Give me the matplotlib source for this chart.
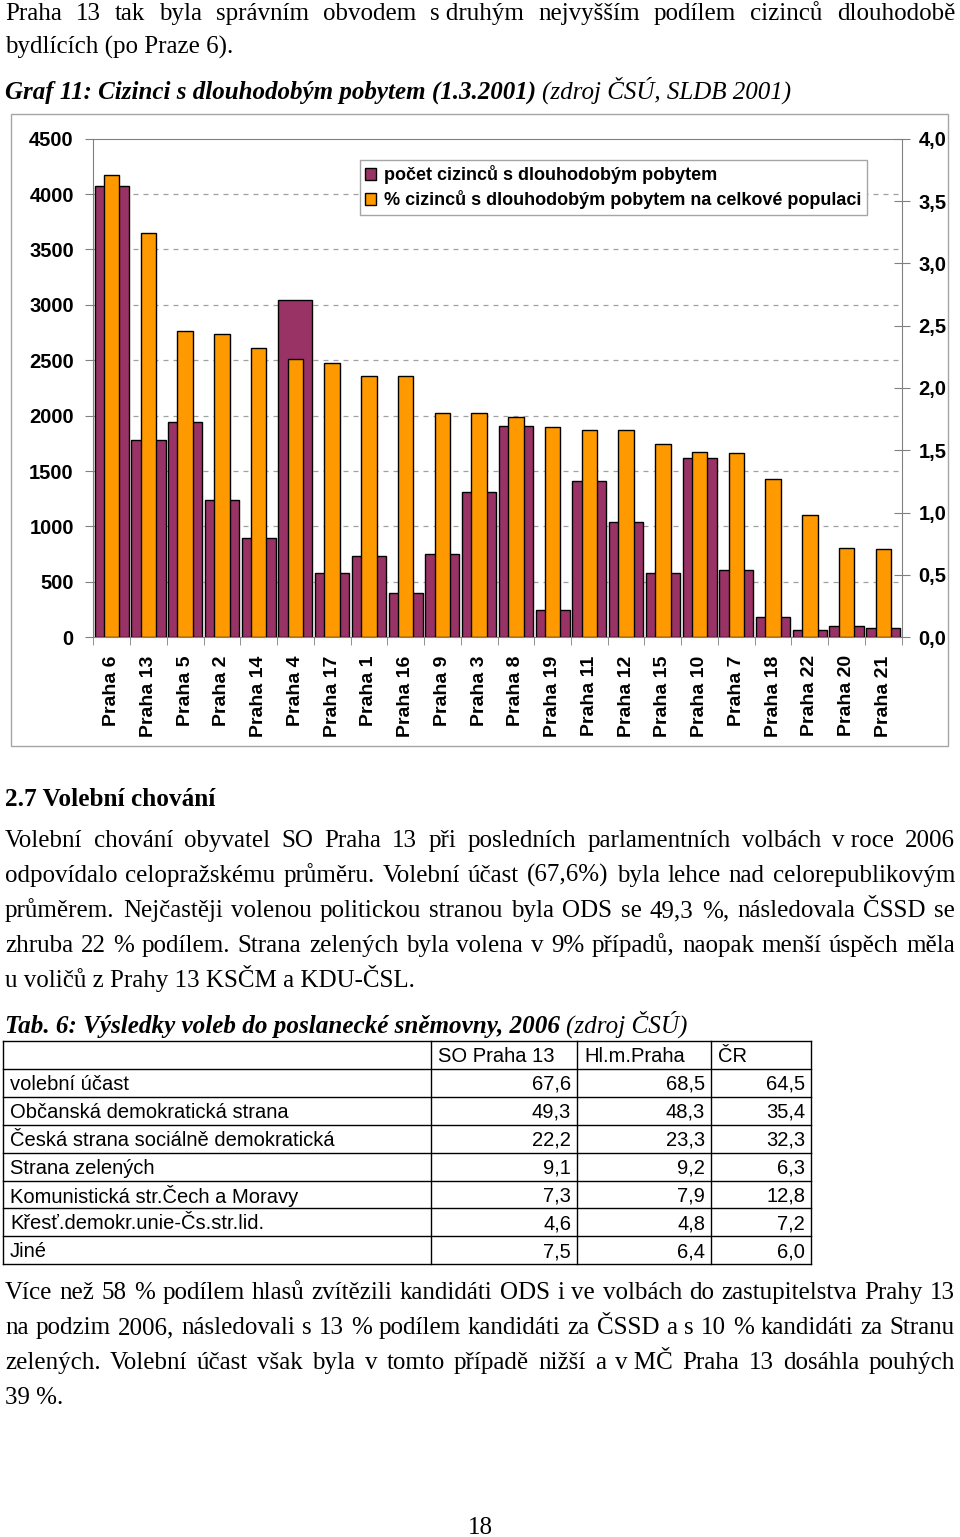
import matplotlib
matplotlib.use('Agg')
import matplotlib.pyplot as plt
from matplotlib.patches import Patch, Rectangle
import numpy as np

# page size in pixels
W, H = 960, 1537

# chart data
districts = ['Praha 6', 'Praha 13', 'Praha 5', 'Praha 2', 'Praha 14', 'Praha 4',
             'Praha 17', 'Praha 1', 'Praha 16', 'Praha 9', 'Praha 3', 'Praha 8',
             'Praha 19', 'Praha 11', 'Praha 12', 'Praha 15', 'Praha 10', 'Praha 7',
             'Praha 18', 'Praha 22', 'Praha 20', 'Praha 21']
counts = [4070, 1780, 1940, 1240, 900, 3040, 580, 730, 400, 755, 1310, 1905,
          245, 1410, 1040, 580, 1620, 610, 185, 70, 100, 85]
pct = [3.71, 3.24, 2.46, 2.43, 2.32, 2.23, 2.20, 2.10, 2.10, 1.80, 1.80, 1.77,
       1.69, 1.66, 1.66, 1.55, 1.49, 1.48, 1.27, 0.98, 0.72, 0.71]
legend_labels = ['počet cizinců s dlouhodobým pobytem',
                 '% cizinců s dlouhodobým pobytem na celkové populaci']

# table data
tab_cols = ['SO Praha 13', 'Hl.m.Praha', 'ČR']
tab_rows = ['volební účast', 'Občanská demokratická strana',
            'Česká strana sociálně demokratická', 'Strana zelených',
            'Komunistická str.Čech a Moravy', 'Křesť.demokr.unie-Čs.str.lid.', 'Jiné']
so_praha13 = [67.6, 49.3, 22.2, 9.1, 7.3, 4.6, 7.5]
hl_m_praha = [68.5, 48.3, 23.3, 9.2, 7.9, 4.8, 6.4]
cr = [64.5, 35.4, 32.3, 6.3, 12.8, 7.2, 6.0]

NB = '\u00a0'
intro = ['Praha 13 tak byla správním obvodem s' + NB + 'druhým nejvyšším podílem cizinců dlouhodobě',
         'bydlících (po Praze 6).']
para1 = ['Volební chování obyvatel SO Praha 13 při posledních parlamentních volbách v' + NB + 'roce 2006',
         'odpovídalo celopražskému průměru. Volební účast (67,6%) byla lehce nad celorepublikovým',
         'průměrem. Nejčastěji volenou politickou stranou byla ODS se 49,3 %, následovala ČSSD se',
         'zhruba 22 % podílem. Strana zelených byla volena v 9% případů, naopak menší úspěch měla',
         'u voličů z Prahy 13 KSČM a KDU-ČSL.']
para2 = ['Více než 58 % podílem hlasů zvítězili kandidáti ODS i ve volbách do zastupitelstva Prahy 13',
         'na podzim 2006, následovali s 13 % podílem kandidáti za ČSSD a s 10 % kandidáti za Stranu',
         'zelených. Volební účast však byla v tomto případě nižší a v' + NB + 'MČ Praha 13 dosáhla pouhých',
         '39 %.']

SERIF = 'Liberation Serif'
SANS = 'Liberation Sans'
MAROON = '#993366'
ORANGE = '#FF9900'

fig = plt.figure(figsize=(W / 100, H / 100), dpi=100)
page = fig.add_axes([0, 0, 1, 1])
page.set_xlim(0, W)
page.set_ylim(H, 0)
page.axis('off')
renderer = fig.canvas.get_renderer()


def width_of(s, **kw):
    t = page.text(0, 0, s, **kw)
    w = t.get_window_extent(renderer).width
    t.remove()
    return w


def justify(line, y, size, x0=5, x1=955, last=False, **kw):
    if last:
        page.text(x0, y, line, fontsize=size, va='baseline', ha='left', family=SERIF, **kw)
        return
    words = line.split(' ')
    ws = [width_of(w_, fontsize=size, family=SERIF, **kw) for w_ in words]
    gap = (x1 - x0 - sum(ws)) / (len(words) - 1)
    x = x0
    for w_, wd in zip(words, ws):
        page.text(x, y, w_, fontsize=size, va='baseline', ha='left', family=SERIF, **kw)
        x += wd + gap


# body font size: largest size where every justified line still fits with small gaps
BODY = 18
body = BODY
for ln in [intro[0]] + para1[:-1] + para2[:-1]:
    words = ln.split(' ')
    w = sum(width_of(w_, fontsize=BODY, family=SERIF) for w_ in words)
    body = min(body, BODY * (950 - 4 * (len(words) - 1)) / w)

justify(intro[0], 20, body)
justify(intro[1], 54, body, last=True)
for i, ln in enumerate(para1):
    justify(ln, 847 + 35 * i, body, last=(i == len(para1) - 1))
for i, ln in enumerate(para2):
    justify(ln, 1299 + 35 * i, body, last=(i == len(para2) - 1))


def fitted(s, x1, **kw):
    return BODY * (x1 - 5) / width_of(s, fontsize=BODY, family=SERIF, **kw)


def caption(bold_part, rest, y, x1):
    # size the caption so it ends where the reference one ends
    s = fitted(bold_part + ' ' + rest, x1, style='italic', weight='bold')
    t = page.text(5, y, bold_part, fontsize=s, family=SERIF, style='italic', weight='bold', va='baseline')
    wb = t.get_window_extent(renderer).width
    page.text(5 + wb + s * 0.35, y, rest, fontsize=s, family=SERIF, style='italic', va='baseline')


caption('Graf 11: Cizinci s dlouhodobým pobytem (1.3.2001)', '(zdroj ČSÚ, SLDB 2001)', 99, 797)
caption('Tab. 6: Výsledky voleb do poslanecké sněmovny, 2006', '(zdroj ČSÚ)', 1033, 690)
heading = '2.7 Volební chování'
page.text(5, 806, heading, fontsize=fitted(heading, 215, weight='bold'), family=SERIF,
          weight='bold', va='baseline')
page.text(480, 1534, '18', fontsize=body, family=SERIF, ha='center', va='baseline')

# chart frame
page.add_patch(Rectangle((11, 114), 937, 632, fill=False, ec='#a6a6a6', lw=1))

# chart
x0, x1, ytop, ybot = 93.3, 901.7, 138.7, 637.3
ax = fig.add_axes([x0 / W, 1 - ybot / H, (x1 - x0) / W, (ybot - ytop) / H])
ax.patch.set_alpha(0)
x = np.arange(len(districts))
ax.bar(x, counts, width=0.93, color=MAROON, edgecolor='black', linewidth=1, zorder=3)
for v in range(500, 4001, 500):
    ax.axhline(v, color='#a0a0a0', lw=0.9, ls=(0, (4, 4)), zorder=1)
ax.set_xlim(-0.5, len(districts) - 0.5)
ax.set_ylim(0, 4500)
yt = list(range(0, 4501, 500))
ax.set_yticks(yt, [str(v) for v in yt], fontsize=14.5, fontweight='bold', family=SANS)
ax.set_xticks(x, districts, rotation=90, fontsize=14, fontweight='bold', family=SANS)
ax.set_xticks(np.arange(-0.5, len(districts), 1), minor=True)
ax.tick_params(axis='y', direction='out', length=6, color='#808080', pad=8)
ax.tick_params(axis='x', which='major', length=0, pad=13)
ax.tick_params(axis='x', which='minor', direction='out', length=6, color='#808080')
for side in ['left', 'bottom', 'top']:
    ax.spines[side].set_color('#808080')
ax.spines['right'].set_visible(False)

ax2 = ax.twinx()
ax2.bar(x, pct, width=0.42, color=ORANGE, edgecolor='black', linewidth=1, zorder=3)
ax2.set_ylim(0, 4.0)
rt = np.arange(0, 4.01, 0.5)
ax2.set_yticks(rt, [f'{v:.1f}'.replace('.', ',') for v in rt], fontsize=14.5,
               fontweight='bold', family=SANS)
ax2.tick_params(axis='y', direction='inout', length=12, color='#808080', pad=6)
for side in ['left', 'bottom', 'top']:
    ax2.spines[side].set_visible(False)
ax2.spines['right'].set_color('#808080')

handles = [Patch(fc=MAROON, ec='black', lw=1), Patch(fc=ORANGE, ec='black', lw=1)]
leg = ax2.legend(handles, legend_labels, loc='upper left',
                 bbox_to_anchor=(360 / W, 1 - 160 / H), bbox_transform=fig.transFigure,
                 fancybox=False, framealpha=1, edgecolor='#a6a6a6',
                 prop={'family': SANS, 'weight': 'bold', 'size': 13},
                 handlelength=0.6, handleheight=0.6, handletextpad=0.45,
                 borderpad=0.3, labelspacing=0.32, borderaxespad=0)
leg.get_frame().set_linewidth(1)

# table
col_x = [3, 431, 577, 711, 811]
row_top, row_h = 1041, 27.9
n_rows = len(tab_rows) + 1
for i in range(n_rows + 1):
    yy = row_top + i * row_h
    page.plot([col_x[0], col_x[-1]], [yy, yy], color='black', lw=1)
for cx in col_x:
    page.plot([cx, cx], [row_top, row_top + n_rows * row_h], color='black', lw=1)

TAB = 14.5
for j, c in enumerate(tab_cols):
    page.text(col_x[j + 1] + 7, row_top + row_h / 2 + 1.5, c, fontsize=TAB, family=SANS,
              ha='left', va='center')
for i, name in enumerate(tab_rows):
    yc = row_top + (i + 1.5) * row_h + 1.5
    page.text(10, yc, name, fontsize=TAB, family=SANS, ha='left', va='center')
    for j, vals in enumerate([so_praha13, hl_m_praha, cr]):
        page.text(col_x[j + 2] - 6, yc, f'{vals[i]:.1f}'.replace('.', ','), fontsize=TAB,
                  family=SANS, ha='right', va='center')

fig.savefig('out.png', dpi=100)
